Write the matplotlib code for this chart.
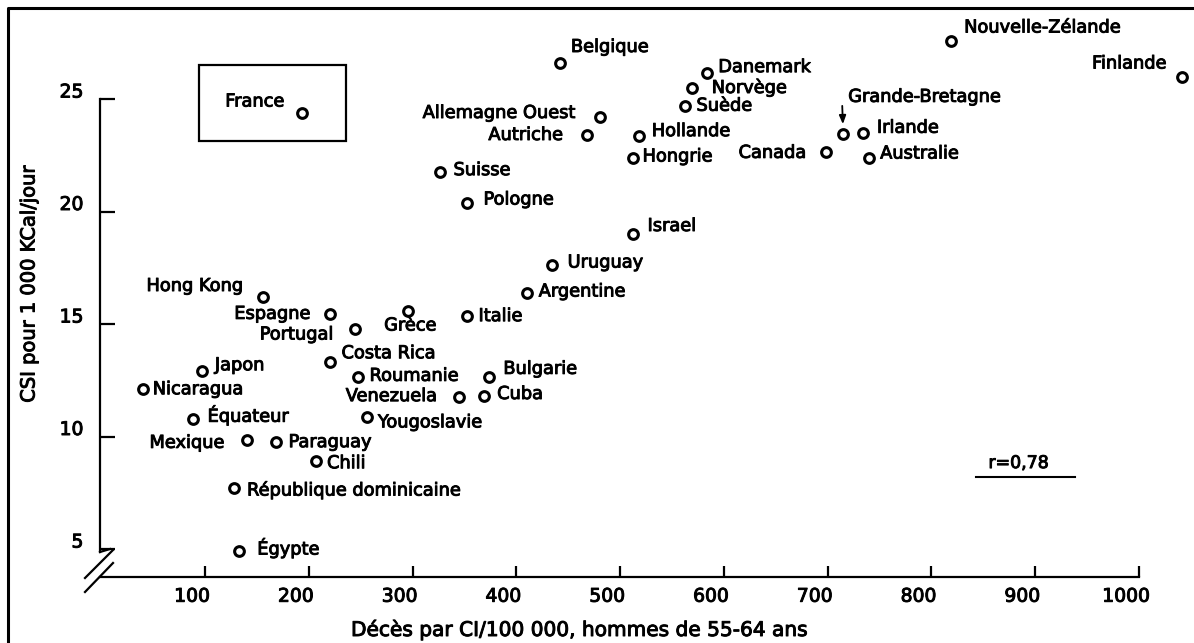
import matplotlib
matplotlib.use("Agg")
import matplotlib.pyplot as plt
import matplotlib.transforms as mtransforms
import matplotlib.patheffects as pe
from matplotlib.patches import Rectangle
from matplotlib.lines import Line2D

# donnees (deces CI / 100 000 vs CSI pour 1000 kcal/jour)
pays = ["France", "Hong Kong", "Espagne", "Portugal", "Grèce", "Costa Rica",
        "Japon", "Nicaragua", "Équateur", "Mexique", "Paraguay", "Chili",
        "République dominicaine", "Égypte", "Roumanie", "Yougoslavie",
        "Venezuela", "Cuba", "Bulgarie", "Italie", "Argentine", "Uruguay",
        "Israel", "Pologne", "Suisse", "Autriche", "Allemagne Ouest",
        "Belgique", "Hollande", "Hongrie", "Suède", "Norvège", "Danemark",
        "Canada", "Grande-Bretagne", "Irlande", "Australie",
        "Nouvelle-Zélande", "Finlande"]
deces = [193, 156, 220, 245, 296, 220, 97, 40, 88, 140, 168, 207, 128, 133,
         247, 256, 345, 369, 374, 352, 410, 434, 512, 352, 326, 468, 481,
         442, 518, 512, 563, 569, 584, 698, 715, 734, 740, 819, 1041]
csi = [24.4, 16.2, 15.45, 14.8, 15.6, 13.3, 12.9, 12.1, 10.8, 9.85, 9.75,
       8.9, 7.7, 4.9, 12.65, 10.85, 11.75, 11.8, 12.65, 15.35, 16.4, 17.6,
       19.0, 20.4, 21.75, 23.4, 24.2, 26.6, 23.35, 22.4, 24.7, 25.5, 26.15,
       22.65, 23.45, 23.5, 22.4, 27.6, 26.0]
xticks = [100, 200, 300, 400, 500, 600, 700, 800, 900, 1000]
yticks = [5, 10, 15, 20, 25]
r_txt = "r=0,78"

# position des etiquettes (decalage en pixels, alignement)
place = {
    "France": (-17, 11, "right"), "Hong Kong": (-20, 11, "right"),
    "Espagne": (-19, 0, "right"), "Portugal": (-22, -6, "right"),
    "Grèce": (2, -15, "center"), "Costa Rica": (12, 9, "left"),
    "Japon": (13, 6, "left"), "Nicaragua": (10, 0, "left"),
    "Équateur": (15, 3, "left"), "Mexique": (-22, -3, "right"),
    "Paraguay": (13, 0, "left"), "Chili": (11, -2, "left"),
    "République dominicaine": (13, -2, "left"), "Égypte": (18, 3, "left"),
    "Roumanie": (12, 1, "left"), "Yougoslavie": (11, -5, "left"),
    "Venezuela": (-22, 1, "right"), "Cuba": (13, 2, "left"),
    "Bulgarie": (14, 8, "left"), "Italie": (12, 0, "left"),
    "Argentine": (12, 1, "left"), "Uruguay": (16, 3, "left"),
    "Israel": (15, 8, "left"), "Pologne": (17, 3, "left"),
    "Suisse": (14, 2, "left"), "Autriche": (-24, 0, "right"),
    "Allemagne Ouest": (-25, 4, "right"), "Belgique": (11, 16, "left"),
    "Hollande": (13, 5, "left"), "Hongrie": (10, 1, "left"),
    "Suède": (11, 0, "left"), "Norvège": (20, 0, "left"),
    "Danemark": (11, 6, "left"), "Canada": (-19, -1, "right"),
    "Grande-Bretagne": (5, 37, "left"), "Irlande": (14, 5, "left"),
    "Australie": (11, 4, "left"), "Nouvelle-Zélande": (13, 13, "left"),
    "Finlande": (-15, 13, "right"),
}

plt.rcParams['font.family'] = ['DejaVu Sans']
W, H = 1194, 643
fig = plt.figure(figsize=(W / 100, H / 100), dpi=100)
fig.patch.set_facecolor("white")

# axes place en pixels
L, T, R, B = 100, 8, 1194, 577
ax = fig.add_axes([L / W, 1 - B / H, (R - L) / W, (B - T) / H])
sx = 934 / 900.0   # px par unite
sy = 22.5
ax.set_xlim(100 + (L - 205) / sx, 100 + (R - 205) / sx)
ax.set_ylim(25 - (B - 99) / sy, 25 + (99 - T) / sy)
ax.patch.set_alpha(0)

bold = [pe.withStroke(linewidth=0.7, foreground="black")]

ax.plot(deces, csi, "o", ms=7, mfc="white", mec="black", mew=2.2,
        ls="none", zorder=3)

for nom, x, y in zip(pays, deces, csi):
    dx, dy, ha = place[nom]
    t = ax.annotate(nom, (x, y), xytext=(dx, dy), textcoords="offset pixels",
                    ha=ha, va="center", fontsize=12.8, color="black")
    t.set_path_effects(bold)

# fleche Grande-Bretagne
i = pays.index("Grande-Bretagne")
ax.annotate("", (deces[i], csi[i]), xytext=(-1, 28), textcoords="offset pixels",
            arrowprops=dict(arrowstyle="-|>,head_length=0.5,head_width=0.2",
                            color="black", lw=1.3, shrinkA=0, shrinkB=7))

# cadre autour de France
ax.add_patch(Rectangle((94.2, 23.13), 141.7, 3.38, fill=False,
                       lw=1.6, ec="black"))

# r = 0,78
t = ax.text(884, 8.82, r_txt, ha="center", va="center", fontsize=12.5)
t.set_path_effects(bold)
ax.plot([843, 938], [8.2, 8.2], color="black", lw=1.5)

for s in ["top", "right"]:
    ax.spines[s].set_visible(False)
ax.spines["left"].set_bounds(4.87, 25)
ax.spines["bottom"].set_bounds(ax.get_xlim()[0], 1000)
ax.spines["left"].set_linewidth(1.6)
ax.spines["bottom"].set_linewidth(1.6)

ax.set_xticks(xticks)
ax.set_yticks(yticks)
ax.tick_params(axis="x", direction="in", length=8, width=1.6, pad=7,
               labelsize=13.5)
ax.tick_params(axis="y", direction="in", length=11, width=1.6, pad=12,
               labelsize=13.5)
shift_x = mtransforms.ScaledTranslation(-13 / 100, 0, fig.dpi_scale_trans)
for lab in ax.get_xticklabels():
    lab.set_transform(lab.get_transform() + shift_x)
    lab.set_path_effects(bold)
shift_y = mtransforms.ScaledTranslation(0, 9 / 100, fig.dpi_scale_trans)
for lab in ax.get_yticklabels():
    lab.set_transform(lab.get_transform() + shift_y)
    lab.set_path_effects(bold)

# titres des axes
t = fig.text(580 / W, 1 - 630 / H, "Décès par CI/100 000, hommes de 55-64 ans",
             ha="center", va="center", fontsize=14.5)
t.set_path_effects(bold)
t = fig.text(29 / W, 1 - 284 / H, "CSI pour 1 000 KCal/jour", rotation=90,
             ha="center", va="center", fontsize=14)
t.set_path_effects(bold)

# coupure des axes
def px(x, y):
    return x / W, 1 - y / H

for (x0, y0, x1, y1) in [(113, 550, 85, 578), (113, 563, 85, 592),
                         (100, 552, 110, 549)]:
    a, b = px(x0, y0)
    c, d = px(x1, y1)
    fig.add_artist(Line2D([a, c], [b, d], color="black", lw=1.6))

# bordure de l'image (haut et gauche)
a, b = px(8, 8)
fig.add_artist(Line2D([a, a, 1.0], [0.0, b, b], color="black", lw=2.2))

fig.savefig("out.png", dpi=100, facecolor="white")
